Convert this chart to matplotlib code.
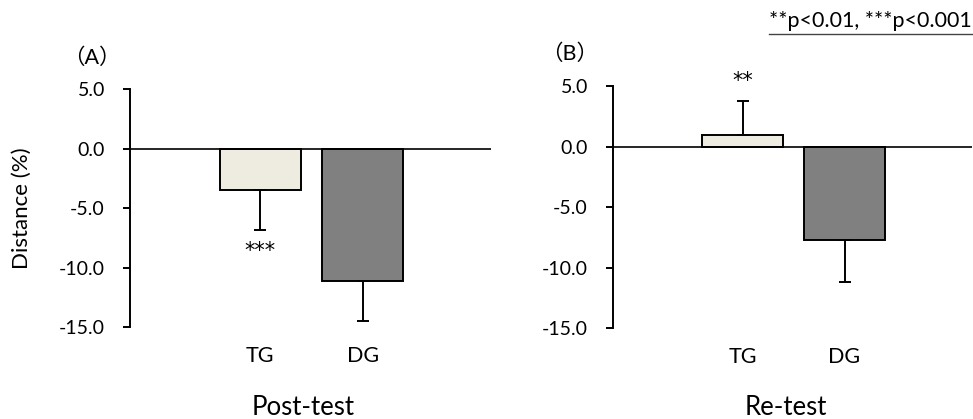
import matplotlib

matplotlib.use("Agg")
import matplotlib.pyplot as plt
import numpy as np
from matplotlib.lines import Line2D

plt.rcParams["font.family"] = ["Lato", "Noto Sans CJK JP", "DejaVu Sans"]
plt.rcParams["axes.unicode_minus"] = False

# data
groups = ["TG", "DG"]
post_means = [-3.45, -11.15]
post_err = [3.35, 3.35]
re_means = [1.0, -7.75]
re_err = [2.8, 3.45]
y_ticks = [5.0, 0.0, -5.0, -10.0, -15.0]
bar_colors = ["#EEECE1", "#808080"]


def draw_panel(ax, means, errs, tag, tag_x, title, title_y, stars, star_y):
    x = np.arange(len(groups))
    # one-sided error bars, pointing away from zero
    lower = [e if m < 0 else 0 for m, e in zip(means, errs)]
    upper = [e if m >= 0 else 0 for m, e in zip(means, errs)]
    ax.bar(
        x,
        means,
        width=0.79,
        color=bar_colors,
        edgecolor="black",
        linewidth=1.4,
        yerr=[lower, upper],
        error_kw=dict(ecolor="black", elinewidth=1.4, capsize=4, capthick=1.4),
        zorder=2,
    )
    ax.axhline(0, color="black", linewidth=1.2, zorder=3)

    ax.set_xlim(-1.27, 2.25)
    ax.set_ylim(-15, 5)
    ax.set_yticks(y_ticks, labels=[f"{v:.1f}" for v in y_ticks])
    ax.set_xticks(x, labels=groups)
    ax.tick_params(axis="x", length=0, pad=14, labelsize=15.5)
    ax.tick_params(axis="y", length=5, width=1.4, direction="out", labelsize=14, pad=13)
    for side in ("top", "right", "bottom"):
        ax.spines[side].set_visible(False)
    ax.spines["left"].set_linewidth(1.4)

    ax.text(tag_x, 1.135, tag, transform=ax.transAxes, fontsize=15.5, ha="left", va="center")
    ax.text(0.48, title_y, title, transform=ax.transAxes, fontsize=18.5,
            ha="center", va="baseline")
    ax.text(0, star_y, stars, fontsize=15, family="DejaVu Sans", ha="center", va="center")


fig = plt.figure(figsize=(9.73, 4.19), dpi=100)
ax_a = fig.add_axes([0.1336, 0.2196, 0.3707, 0.5673])
ax_b = fig.add_axes([0.6300, 0.2172, 0.3690, 0.5768])

draw_panel(ax_a, post_means, post_err, "（A）", -0.185, "Post-test", -0.37, "***", -8.6)
draw_panel(ax_b, re_means, re_err, "（B）", -0.2, "Re-test", -0.362, "**", 5.4)
ax_a.set_ylabel("Distance (%)", fontsize=16)
ax_a.yaxis.set_label_coords(-0.272, 0.5)

fig.text(0.999, 0.95, "**p<0.01, ***p<0.001", fontsize=15.5, ha="right", va="center")
fig.add_artist(Line2D([0.790, 0.999], [0.919, 0.919], color="#444444", linewidth=1.0))

fig.savefig("out.png", dpi=100)
